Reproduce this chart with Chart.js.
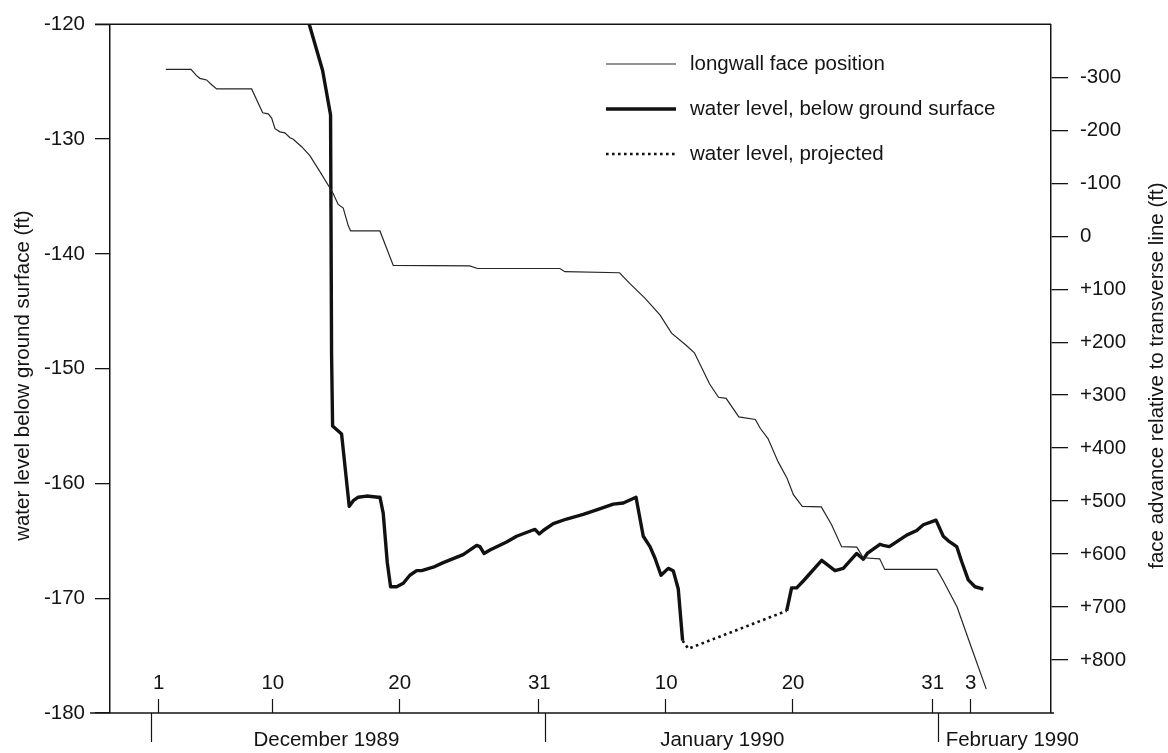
<!DOCTYPE html>
<html>
<head>
<meta charset="utf-8">
<script src="https://cdn.jsdelivr.net/npm/chart.js@4.4.1/dist/chart.umd.min.js"></script>
<style>
  html, body { margin: 0; padding: 0; background: #fff; }
  #wrap { width: 1168px; height: 753px; }
</style>
</head>
<body>
<div id="wrap"><canvas id="chart" width="1168" height="753"></canvas></div>
<script>
// days counted from 1 Dec 1989 (Dec 1 = 1, Jan 1 = 32, Feb 1 = 63)
const faceDays = [1.65, 3.63, 4.07, 4.33, 4.86, 5.26, 5.65, 8.41, 9.28, 9.72, 9.99, 10.25, 10.64, 11.03, 11.43, 11.69,
    12.35, 13.0, 13.79, 14.58, 14.84, 15.23, 15.63, 16.02, 16.21, 18.52, 19.57, 25.6, 26.2, 32.7, 33.1, 37.4,
    38.2, 39.4, 40.6, 41.5, 42.6, 43.3, 44.5, 45.2, 45.8, 46.8, 48.1, 48.5, 49.1, 49.9, 50.6, 51.1,
    51.8, 53.3, 54.1, 54.9, 56.1, 56.6, 57.9, 58.3, 62.4, 62.9, 64.0, 65.0, 66.3];
const faceFt = [-315, -315, -303, -298, -295, -286, -278, -278, -233, -231, -223, -203, -197, -195, -186, -183,
    -169, -152, -122, -91, -80, -60, -53, -20, -10, -10, 55, 56, 61, 61, 67, 69,
    89, 117, 149, 183, 205, 220, 279, 304, 306, 341, 346, 363, 382, 426, 457, 488,
    510, 511, 544, 586, 587, 607, 609, 629, 629, 650, 700, 768, 855];

// measured water level, before and after the gap in the record
const waterDaysA = [12.95, 14.0, 14.63, 14.71, 14.79, 15.5, 16.1, 16.42, 16.81, 17.47, 18.39, 18.52, 18.78, 19.1, 19.36, 19.84,
    20.36, 20.88, 21.41, 21.81, 22.72, 23.51, 25.08, 26.14, 26.4, 26.72, 27.19, 28.5, 29.29, 30.48, 30.74, 31.07,
    31.39, 32.18, 33.23, 34.54, 35.6, 36.91, 37.7, 38.7, 39.27, 39.8, 40.19, 40.67, 41.24, 41.63, 42.03, 42.37];
const waterFtA = [-120, -124, -127.9, -148.8, -155, -155.7, -162, -161.5, -161.2, -161.1, -161.2, -161.2, -162.6, -166.9, -169, -169,
    -168.7, -168, -167.6, -167.6, -167.3, -166.9, -166.2, -165.4, -165.5, -166.1, -165.8, -165.1, -164.6, -164.1, -164.0, -164.4,
    -164.1, -163.5, -163.1, -162.7, -162.3, -161.8, -161.7, -161.2, -164.6, -165.5, -166.5, -168.0, -167.4, -167.6, -169.2, -173.7];
const waterDaysB = [50.57, 50.96, 51.36, 51.88, 53.33, 54.38, 55.03, 56.09, 56.61, 56.92, 57.92, 58.18, 58.66, 60.03, 60.82, 61.34,
    61.86, 62.34, 62.91, 63.31, 63.97, 64.36, 64.88, 65.41, 66.07];
const waterFtB = [-171.1, -169.1, -169.1, -168.5, -166.7, -167.6, -167.4, -166.1, -166.6, -166.1, -165.3, -165.4, -165.5, -164.5, -164.1, -163.6,
    -163.4, -163.2, -164.6, -165.0, -165.5, -166.8, -168.4, -169.0, -169.2];

const projectedDays = [42.37, 42.82, 50.57];
const projectedFt = [-173.7, -174.4, -171.1];

const waterTicks = [-180, -170, -160, -150, -140, -130, -120];
const faceTicks = [-300, -200, -100, 0, 100, 200, 300, 400, 500, 600, 700, 800];

const dayTicks = [1, 10, 20, 31, 41, 51, 62, 65];
const dayLabels = ['1', '10', '20', '31', '10', '20', '31', '3'];
const monthStarts = [0.5, 31.5, 62.5];
const monthNames = ['December 1989', 'January 1990', 'February 1990'];
const monthLabelDays = [14.3, 45.5, 63.1];
const monthAlign = ['center', 'center', 'left'];

const waterTitle = 'water level below ground surface (ft)';
const faceTitle = 'face advance relative to transverse line (ft)';

const INK = '#141414';
const FAMILY = '"Liberation Sans", Arial, Helvetica, sans-serif';
const FONT = '20.5px ' + FAMILY;

const toPoints = (xs, ys) => xs.map((x, i) => ({ x: x, y: ys[i] }));

const waterPoints = toPoints(waterDaysA, waterFtA)
    .concat([{ x: (waterDaysA[waterDaysA.length - 1] + waterDaysB[0]) / 2, y: null }])
    .concat(toPoints(waterDaysB, waterFtB));

// box, date ticks inside the bottom edge, month names below it, axis titles
const dateAxis = {
    id: 'dateAxis',
    afterDraw(chart) {
        const { ctx, chartArea: a, scales } = chart;
        const x = scales.x;
        ctx.save();
        ctx.strokeStyle = INK;
        ctx.lineWidth = 1.5;
        ctx.beginPath();
        ctx.moveTo(a.left - 15, a.top);
        ctx.lineTo(a.right, a.top);
        ctx.moveTo(a.left - 20, a.bottom);
        ctx.lineTo(a.right + 3, a.bottom);
        ctx.stroke();

        ctx.lineWidth = 1.2;
        ctx.beginPath();
        dayTicks.forEach(d => {
            const px = Math.round(x.getPixelForValue(d)) + 0.5;
            ctx.moveTo(px, a.bottom);
            ctx.lineTo(px, a.bottom - 14);
        });
        monthStarts.forEach(d => {
            const px = Math.round(x.getPixelForValue(d)) + 0.5;
            ctx.moveTo(px, a.bottom);
            ctx.lineTo(px, a.bottom + 29);
        });
        ctx.stroke();

        ctx.fillStyle = INK;
        ctx.font = FONT;
        ctx.textBaseline = 'alphabetic';
        ctx.textAlign = 'center';
        dayTicks.forEach((d, i) => {
            ctx.fillText(dayLabels[i], x.getPixelForValue(d) + 1, a.bottom - 24);
        });
        monthNames.forEach((name, i) => {
            ctx.textAlign = monthAlign[i];
            ctx.fillText(name, x.getPixelForValue(monthLabelDays[i]), a.bottom + 33);
        });

        // both axis titles read upwards
        const midY = (a.top + a.bottom) / 2 + 7;
        ctx.textAlign = 'center';
        ctx.textBaseline = 'middle';
        [[23, waterTitle], [1157, faceTitle]].forEach(([tx, text]) => {
            ctx.save();
            ctx.translate(tx, midY);
            ctx.rotate(-Math.PI / 2);
            ctx.fillText(text, 0, 0);
            ctx.restore();
        });
        ctx.restore();
    }
};

// key in the upper right, one row per dataset
const keyBox = {
    id: 'keyBox',
    afterDraw(chart) {
        const { ctx } = chart;
        const rowsY = [64, 109, 154];
        ctx.save();
        ctx.font = FONT;
        ctx.fillStyle = INK;
        ctx.textBaseline = 'middle';
        chart.data.datasets.forEach((ds, i) => {
            const y = rowsY[i];
            ctx.strokeStyle = ds.borderColor;
            ctx.lineWidth = ds.borderWidth;
            ctx.setLineDash(ds.borderDash || []);
            ctx.beginPath();
            ctx.moveTo(606, y);
            ctx.lineTo(676, y);
            ctx.stroke();
            ctx.fillText(ds.label, 690, y);
        });
        ctx.restore();
    }
};

const chart = new Chart(document.getElementById('chart'), {
    type: 'line',
    data: {
        datasets: [{
            label: 'longwall face position',
            data: toPoints(faceDays, faceFt),
            yAxisID: 'face',
            borderColor: '#262626',
            borderWidth: 1.2,
            pointRadius: 0
        }, {
            label: 'water level, below ground surface',
            data: waterPoints,
            yAxisID: 'water',
            borderColor: '#111',
            borderWidth: 3.4,
            borderJoinStyle: 'round',
            pointRadius: 0,
            spanGaps: false
        }, {
            label: 'water level, projected',
            data: toPoints(projectedDays, projectedFt),
            yAxisID: 'water',
            borderColor: '#111',
            borderWidth: 2.6,
            borderDash: [2.6, 3.4],
            pointRadius: 0
        }]
    },
    options: {
        responsive: false,
        animation: false,
        layout: { padding: { top: 17, bottom: 40, left: 0, right: 0 } },
        plugins: {
            legend: { display: false },
            tooltip: { enabled: false }
        },
        scales: {
            x: {
                type: 'linear',
                min: -2.75,
                max: 71.4,
                display: false
            },
            water: {
                position: 'left',
                min: -180,
                max: -120,
                afterBuildTicks: (scale) => {
                    scale.ticks = waterTicks.map(v => ({ value: v }));
                },
                afterFit: (scale) => {
                    scale.width = 110;
                },
                ticks: {
                    color: INK,
                    padding: 10,
                    font: { family: FAMILY, size: 20.5 },
                    callback: (v) => String(v)
                },
                grid: { drawOnChartArea: false, tickLength: 15, color: INK, lineWidth: 1.3 },
                border: { display: true, color: INK, width: 1.5 }
            },
            face: {
                position: 'right',
                reverse: true,
                min: -400,
                max: 900,
                afterBuildTicks: (scale) => {
                    scale.ticks = faceTicks.map(v => ({ value: v }));
                },
                afterFit: (scale) => {
                    scale.width = 117;
                },
                ticks: {
                    color: INK,
                    padding: 12,
                    font: { family: FAMILY, size: 20.5 },
                    callback: (v) => (v > 0 ? '+' + v : String(v))
                },
                grid: { drawOnChartArea: false, tickLength: 17, color: INK, lineWidth: 1.3 },
                border: { display: true, color: INK, width: 1.5 }
            }
        }
    },
    plugins: [dateAxis, keyBox]
});
</script>
</body>
</html>
